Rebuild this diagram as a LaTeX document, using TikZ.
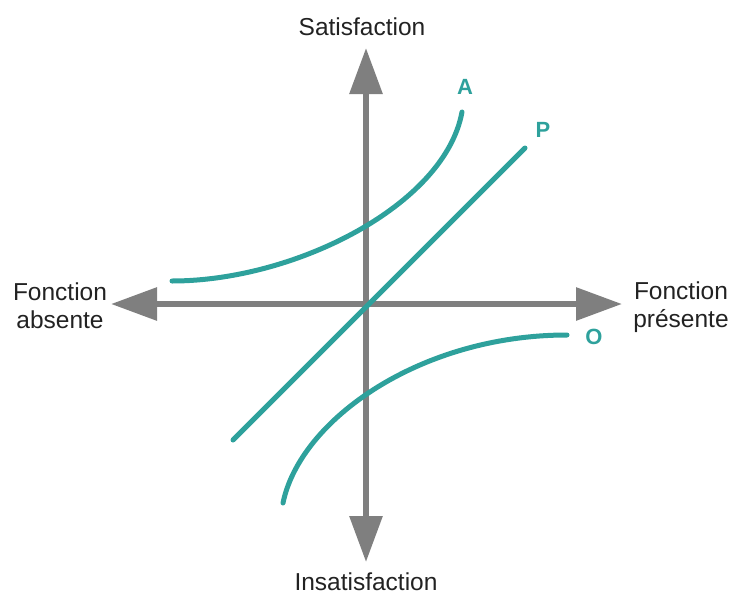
\documentclass[tikz,border=0pt]{standalone}
\usepackage{fontspec}
\setmainfont{Liberation Sans}
\usetikzlibrary{arrows.meta}
\definecolor{axisgrey}{HTML}{7F7F7F}
\definecolor{teal}{HTML}{2EA19C}
\definecolor{txt}{HTML}{222222}
\begin{document}
\begin{tikzpicture}[x=1pt,y=-1pt,
  axis/.style={draw=axisgrey,line width=6pt,-{Triangle[length=46pt,width=32pt]}},
  curve/.style={draw=teal,line width=5pt,line cap=round},
  lbl/.style={text=txt,font=\fontsize{24.5}{28}\selectfont,align=center,inner sep=0pt},
  cname/.style={text=teal,font=\bfseries\fontsize{22}{24}\selectfont,inner sep=0pt}]
\useasboundingbox (0,0) rectangle (734,598);
% axes
\coordinate (o) at (366,304);
\coordinate (top) at (366,48);
\coordinate (bot) at (366,562);
\coordinate (lft) at (111,304);
\coordinate (rgt) at (622,304);
\draw[axis] (o) -- (top);
\draw[axis] (o) -- (bot);
\draw[axis] (o) -- (lft);
\draw[axis] (o) -- (rgt);
% curves
\coordinate (a0) at (172,281);
\coordinate (a1) at (462,112);
\coordinate (p0) at (233,440);
\coordinate (p1) at (525,148);
\coordinate (o0) at (283,503);
\coordinate (o1) at (567,335);
\draw[curve] (a0) .. controls (295,281) and (445,205) .. (a1);
\draw[curve] (p0) -- (p1);
\draw[curve] (o0) .. controls (300,420) and (420,335) .. (o1);
% labels
\node[lbl] (sat) at (362,27) {Satisfaction};
\node[lbl] (insat) at (366,582) {Insatisfaction};
\node[lbl] (abs) at (60,306) {Fonction\\absente};
\node[lbl] (pres) at (681,307) {Fonction\\présente};
\node[cname] (la) at (465,87) {A};
\node[cname] (lp) at (543,130) {P};
\node[cname] (lo) at (594,337) {O};
\end{tikzpicture}
\end{document}
